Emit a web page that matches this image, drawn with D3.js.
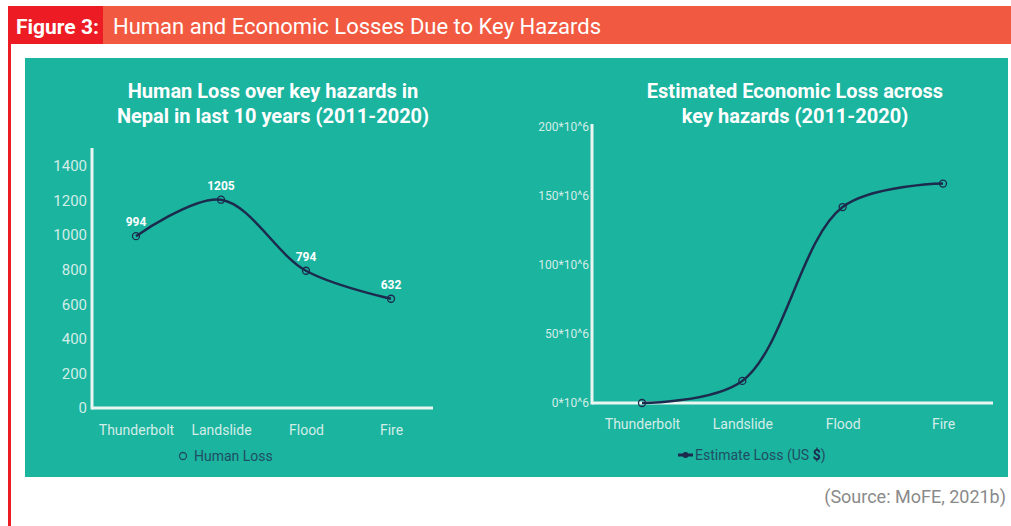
<!DOCTYPE html>
<html><head><meta charset="utf-8">
<script src="https://cdn.jsdelivr.net/npm/d3@7"></script>
<style>html,body{margin:0;padding:0;background:#fff;}svg{display:block;}</style>
</head><body>
<svg id="c" width="1011" height="526"></svg>
<script>
const categories = ["Thunderbolt", "Landslide", "Flood", "Fire"];
const humanLoss = [994, 1205, 794, 632];
const humanTicks = [0, 200, 400, 600, 800, 1000, 1200, 1400];
const econLoss = [0, 16e6, 142e6, 159e6];
const econTicks = [0, 50e6, 100e6, 150e6, 200e6];
const econTickLabels = ["0*10^6", "50*10^6", "100*10^6", "150*10^6", "200*10^6"];

const svg = d3.select("#c");
const teal = "#1bb49f", navy = "#1c2a4d", axisCol = "#eaf6f2", tickCol = "#d3ede7";
const font = "Roboto, 'Liberation Sans', sans-serif";

// header
svg.append("rect").attr("x", 8).attr("y", 6).attr("width", 1003).attr("height", 38).attr("fill", "#f15a40");
svg.append("rect").attr("x", 8).attr("y", 6).attr("width", 95).attr("height", 38).attr("fill", "#ed1c24");
svg.append("rect").attr("x", 8).attr("y", 44).attr("width", 3).attr("height", 482).attr("fill", "#ed1c24");
svg.append("text").attr("x", 16).attr("y", 34).attr("fill", "#fff").attr("font-family", font)
  .attr("font-weight", "bold").attr("font-size", 21).text("Figure 3:");
svg.append("text").attr("x", 113).attr("y", 34).attr("fill", "#fff").attr("font-family", font)
  .attr("font-size", 22).text("Human and Economic Losses Due to Key Hazards");

// panel
svg.append("rect").attr("x", 25).attr("y", 58).attr("width", 983).attr("height", 419).attr("fill", teal);

svg.append("text").attr("x", 1006).attr("y", 503).attr("text-anchor", "end").attr("fill", "#8a8a8a")
  .attr("font-family", font).attr("font-size", 18).text("(Source: MoFE, 2021b)");

function chart(opts) {
  const g = svg.append("g");
  const x = d3.scalePoint().domain(categories).range(opts.xr);
  const y = d3.scaleLinear().domain(opts.yd).range(opts.yr);
  opts.title.forEach((t, i) => {
    g.append("text").attr("x", opts.tx).attr("y", opts.ty + i * 25).attr("text-anchor", "middle")
      .attr("fill", "#fff").attr("font-family", font).attr("font-weight", "bold")
      .attr("font-size", 20).text(t);
  });
  const ya = g.append("g").attr("transform", `translate(${opts.ax0},0)`)
    .call(d3.axisLeft(y).tickValues(opts.ticks).tickSize(0).tickPadding(opts.tp)
      .tickFormat((d, i) => opts.tickLabels[i]));
  ya.select(".domain").remove();
  ya.selectAll("text").attr("fill", tickCol).attr("font-family", font).attr("font-size", opts.tfs);
  g.append("line").attr("x1", opts.ax0).attr("x2", opts.ax0).attr("y1", opts.axTop).attr("y2", y(0) + 1.5)
    .attr("stroke", axisCol).attr("stroke-width", 3);
  g.append("line").attr("x1", opts.ax0).attr("x2", opts.ax1).attr("y1", y(0)).attr("y2", y(0))
    .attr("stroke", axisCol).attr("stroke-width", 3);
  const xa = g.append("g").attr("transform", `translate(0,${y(0)})`)
    .call(d3.axisBottom(x).tickSize(0).tickPadding(opts.xp));
  xa.select(".domain").remove();
  xa.selectAll("text").attr("fill", tickCol).attr("font-family", font).attr("font-size", 14);
  const data = categories.map((c, i) => ({c, v: opts.values[i]}));
  g.append("path").datum(data)
    .attr("d", d3.line().x(d => x(d.c)).y(d => y(d.v)).curve(d3.curveCatmullRom.alpha(0.5)))
    .attr("fill", "none").attr("stroke", navy).attr("stroke-width", 2.5);
  g.selectAll("circle.pt").data(data).join("circle").attr("class", "pt")
    .attr("cx", d => x(d.c)).attr("cy", d => y(d.v)).attr("r", 3.5)
    .attr("fill", "none").attr("stroke", navy).attr("stroke-width", 1.3);
  if (opts.labels) {
    g.selectAll("text.lbl").data(data).join("text").attr("class", "lbl")
      .attr("x", d => x(d.c)).attr("y", d => y(d.v) - 10).attr("text-anchor", "middle")
      .attr("fill", "#fff").attr("font-family", font).attr("font-weight", "bold").attr("font-size", 12)
      .text(d => d.v);
  }
  return {x, y, g};
}

const c1 = chart({
  xr: [136, 391], yd: [0, 1400], yr: [408, 166], ax0: 92, ax1: 433, axTop: 148,
  ticks: humanTicks, tickLabels: humanTicks.map(String), tp: 5, tfs: 15, xp: 17,
  values: humanLoss, labels: true, title: ["Human Loss over key hazards in", "Nepal in last 10 years (2011-2020)"],
  tx: 273, ty: 98
});
c1.g.append("circle").attr("cx", 183).attr("cy", 456).attr("r", 3.5).attr("fill", "none")
  .attr("stroke", "#1f4e63").attr("stroke-width", 1.3);
c1.g.append("text").attr("x", 194).attr("y", 461).attr("fill", "#1f4e63").attr("font-family", font)
  .attr("font-size", 14).text("Human Loss");

const c2 = chart({
  xr: [642, 943], yd: [0, 200e6], yr: [403, 127], ax0: 592, ax1: 993, axTop: 124,
  ticks: econTicks, tickLabels: econTickLabels, tp: 3, tfs: 12, xp: 16,
  values: econLoss, labels: false, title: ["Estimated Economic Loss across", "key hazards (2011-2020)"],
  tx: 795, ty: 98
});
c2.g.append("line").attr("x1", 678).attr("x2", 693).attr("y1", 455).attr("y2", 455)
  .attr("stroke", navy).attr("stroke-width", 3);
c2.g.append("circle").attr("cx", 685.5).attr("cy", 455).attr("r", 3).attr("fill", navy);
const lt = c2.g.append("text").attr("x", 695).attr("y", 460).attr("fill", "#1f4e63").attr("font-family", font)
  .attr("font-size", 14);
lt.append("tspan").text("Estimate Loss (US ");
lt.append("tspan").attr("font-weight", "bold").attr("fill", navy).text("$");
lt.append("tspan").text(")");
</script>
</body></html>
